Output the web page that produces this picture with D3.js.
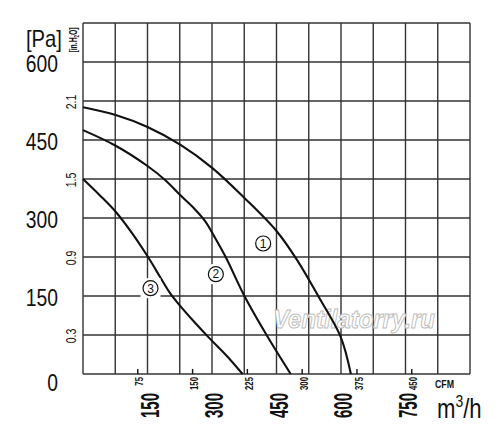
<!DOCTYPE html>
<html>
<head>
<meta charset="utf-8">
<script src="https://cdn.jsdelivr.net/npm/d3@7"></script>
<style>
  body { margin: 0; background: #fff; }
  text { font-family: "Liberation Sans", Arial, sans-serif; fill: #111; }
</style>
</head>
<body>
<div id="chart"></div>
<script>
// fan curves: flow in m3/h, pressure in Pa
const curve1Flow = [0, 76, 150, 226, 301, 376, 450, 498, 549, 599, 623];
const curve1Pa   = [513, 498, 475, 441, 396, 338, 275, 219, 147, 72, 0];
const curve2Flow = [0, 76, 150, 191, 226, 260, 284, 307, 333, 376, 429, 483];
const curve2Pa   = [469, 439, 400, 373, 344, 317, 294, 262, 223, 149, 72, 0];
const curve3Flow = [0, 40, 76, 114, 152, 179, 202, 226, 260, 295, 333, 371];
const curve3Pa   = [375, 343, 312, 271, 224, 187, 156, 131, 99, 68, 36, 0];

const curveNames = ["1", "2", "3"];
// where each circled number sits (flow, Pa)
const nameFlow = [419, 309, 157];
const namePa   = [251, 192, 165];

const paTicks  = [0, 150, 300, 450, 600];
const inTicks  = [0.3, 0.9, 1.5, 2.1];
const m3hTicks = [150, 300, 450, 600, 750];
const cfmTicks = [75, 150, 225, 300, 375, 450];

const width = 500, height = 440;
const plotLeft = 83, plotRight = 470, plotTop = 23, plotBottom = 374;

const svg = d3.select("#chart").append("svg")
    .attr("width", width)
    .attr("height", height);

svg.append("rect").attr("width", width).attr("height", height).attr("fill", "#fff");

const x = d3.scaleLinear().domain([0, 900]).range([plotLeft, plotRight]);
const y = d3.scaleLinear().domain([0, 675]).range([plotBottom, plotTop]);
const yIn = d3.scaleLinear().domain([0, 2.7]).range([plotBottom, plotTop]);

// grid, one line every 75
svg.append("g")
    .selectAll("line")
    .data(d3.range(0, 901, 75))
    .join("line")
    .attr("x1", d => x(d)).attr("x2", d => x(d))
    .attr("y1", plotTop).attr("y2", plotBottom)
    .attr("stroke", "#333").attr("stroke-width", 1.4);

svg.append("g")
    .selectAll("line")
    .data(d3.range(0, 676, 75))
    .join("line")
    .attr("x1", plotLeft).attr("x2", plotRight)
    .attr("y1", d => y(d)).attr("y2", d => y(d))
    .attr("stroke", "#333").attr("stroke-width", 1.4);

// watermark
svg.append("text")
    .attr("x", 273).attr("y", 328)
    .style("font-style", "italic")
    .style("font-weight", "bold")
    .style("font-size", "26px")
    .style("fill", "#fff")
    .attr("stroke", "#bdbdbd")
    .attr("stroke-width", 1)
    .attr("textLength", 162)
    .attr("lengthAdjust", "spacingAndGlyphs")
    .text("Ventilatorry.ru");

// curves
const line = d3.line()
    .x(d => x(d[0]))
    .y(d => y(d[1]))
    .curve(d3.curveCatmullRom.alpha(0.5));

const curves = [
  d3.zip(curve1Flow, curve1Pa),
  d3.zip(curve2Flow, curve2Pa),
  d3.zip(curve3Flow, curve3Pa)
];

svg.append("g")
    .selectAll("path")
    .data(curves)
    .join("path")
    .attr("d", line)
    .attr("fill", "none")
    .attr("stroke", "#111")
    .attr("stroke-width", 2.1);

// circled numbers, on a small white patch
const names = svg.append("g")
    .selectAll("g")
    .data(curveNames)
    .join("g")
    .attr("transform", (d, i) => `translate(${x(nameFlow[i])},${y(namePa[i])})`);

names.append("rect")
    .attr("x", -10).attr("y", -10)
    .attr("width", 20).attr("height", 20)
    .attr("fill", "#fff");

names.append("circle")
    .attr("r", 7.5)
    .attr("fill", "#fff")
    .attr("stroke", "#111")
    .attr("stroke-width", 1.2);

names.append("text")
    .attr("text-anchor", "middle")
    .attr("dy", "0.36em")
    .style("font-size", "12px")
    .text(d => d);

// Pa labels on the left
svg.append("g")
    .selectAll("text")
    .data(paTicks)
    .join("text")
    .attr("transform", d => `translate(58,${y(d) + (d === 0 ? 9 : 2)}) scale(0.84,1)`)
    .attr("dy", "0.36em")
    .attr("text-anchor", "end")
    .style("font-size", "23px")
    .text(d => d);

svg.append("text")
    .attr("transform", "translate(62,47) scale(0.88,1)")
    .attr("text-anchor", "end")
    .style("font-size", "23px")
    .text("[Pa]");

// in.H2O labels, turned on their side
svg.append("g")
    .selectAll("text")
    .data(inTicks)
    .join("text")
    .attr("transform", d => `translate(71,${yIn(d) + 1}) rotate(-90) scale(0.75,1)`)
    .attr("text-anchor", "middle")
    .attr("dy", "0.36em")
    .style("font-size", "14px")
    .text(d => d.toFixed(1));

svg.append("text")
    .attr("transform", "translate(73,40) rotate(-90) scale(0.62,1)")
    .attr("text-anchor", "middle")
    .attr("dy", "0.36em")
    .style("font-size", "11px")
    .style("font-weight", "bold")
    .html("[in.H<tspan font-size='7' dy='2'>2</tspan><tspan dy='-2'>O]</tspan>");

// CFM ticks and labels
const cfmToM3h = 1.699;
svg.append("g")
    .selectAll("line")
    .data(cfmTicks)
    .join("line")
    .attr("x1", d => x(d * cfmToM3h)).attr("x2", d => x(d * cfmToM3h))
    .attr("y1", plotBottom).attr("y2", plotBottom - 5)
    .attr("stroke", "#111").attr("stroke-width", 1.4);

svg.append("g")
    .selectAll("text")
    .data(cfmTicks)
    .join("text")
    .attr("transform", d => `translate(${x(d * cfmToM3h) + 2},377) rotate(-90) scale(0.78,1)`)
    .attr("text-anchor", "end")
    .attr("dy", "0.36em")
    .style("font-size", "10px")
    .style("font-weight", "bold")
    .text(d => d);

svg.append("text")
    .attr("transform", "translate(435,388) scale(0.8,1)")
    .style("font-size", "11px")
    .style("font-weight", "bold")
    .text("CFM");

// m3/h labels
svg.append("g")
    .selectAll("text")
    .data(m3hTicks)
    .join("text")
    .attr("transform", d => `translate(${x(d) + 2},393) rotate(-90) scale(0.6,1)`)
    .attr("text-anchor", "end")
    .attr("dy", "0.36em")
    .style("font-size", "25px")
    .style("font-weight", "bold")
    .text(d => d);

svg.append("text")
    .attr("transform", "translate(437,418) scale(0.82,1)")
    .style("font-size", "27px")
    .html("m<tspan font-size='17' dy='-11'>3</tspan><tspan dy='11'>/h</tspan>");
</script>
</body>
</html>
